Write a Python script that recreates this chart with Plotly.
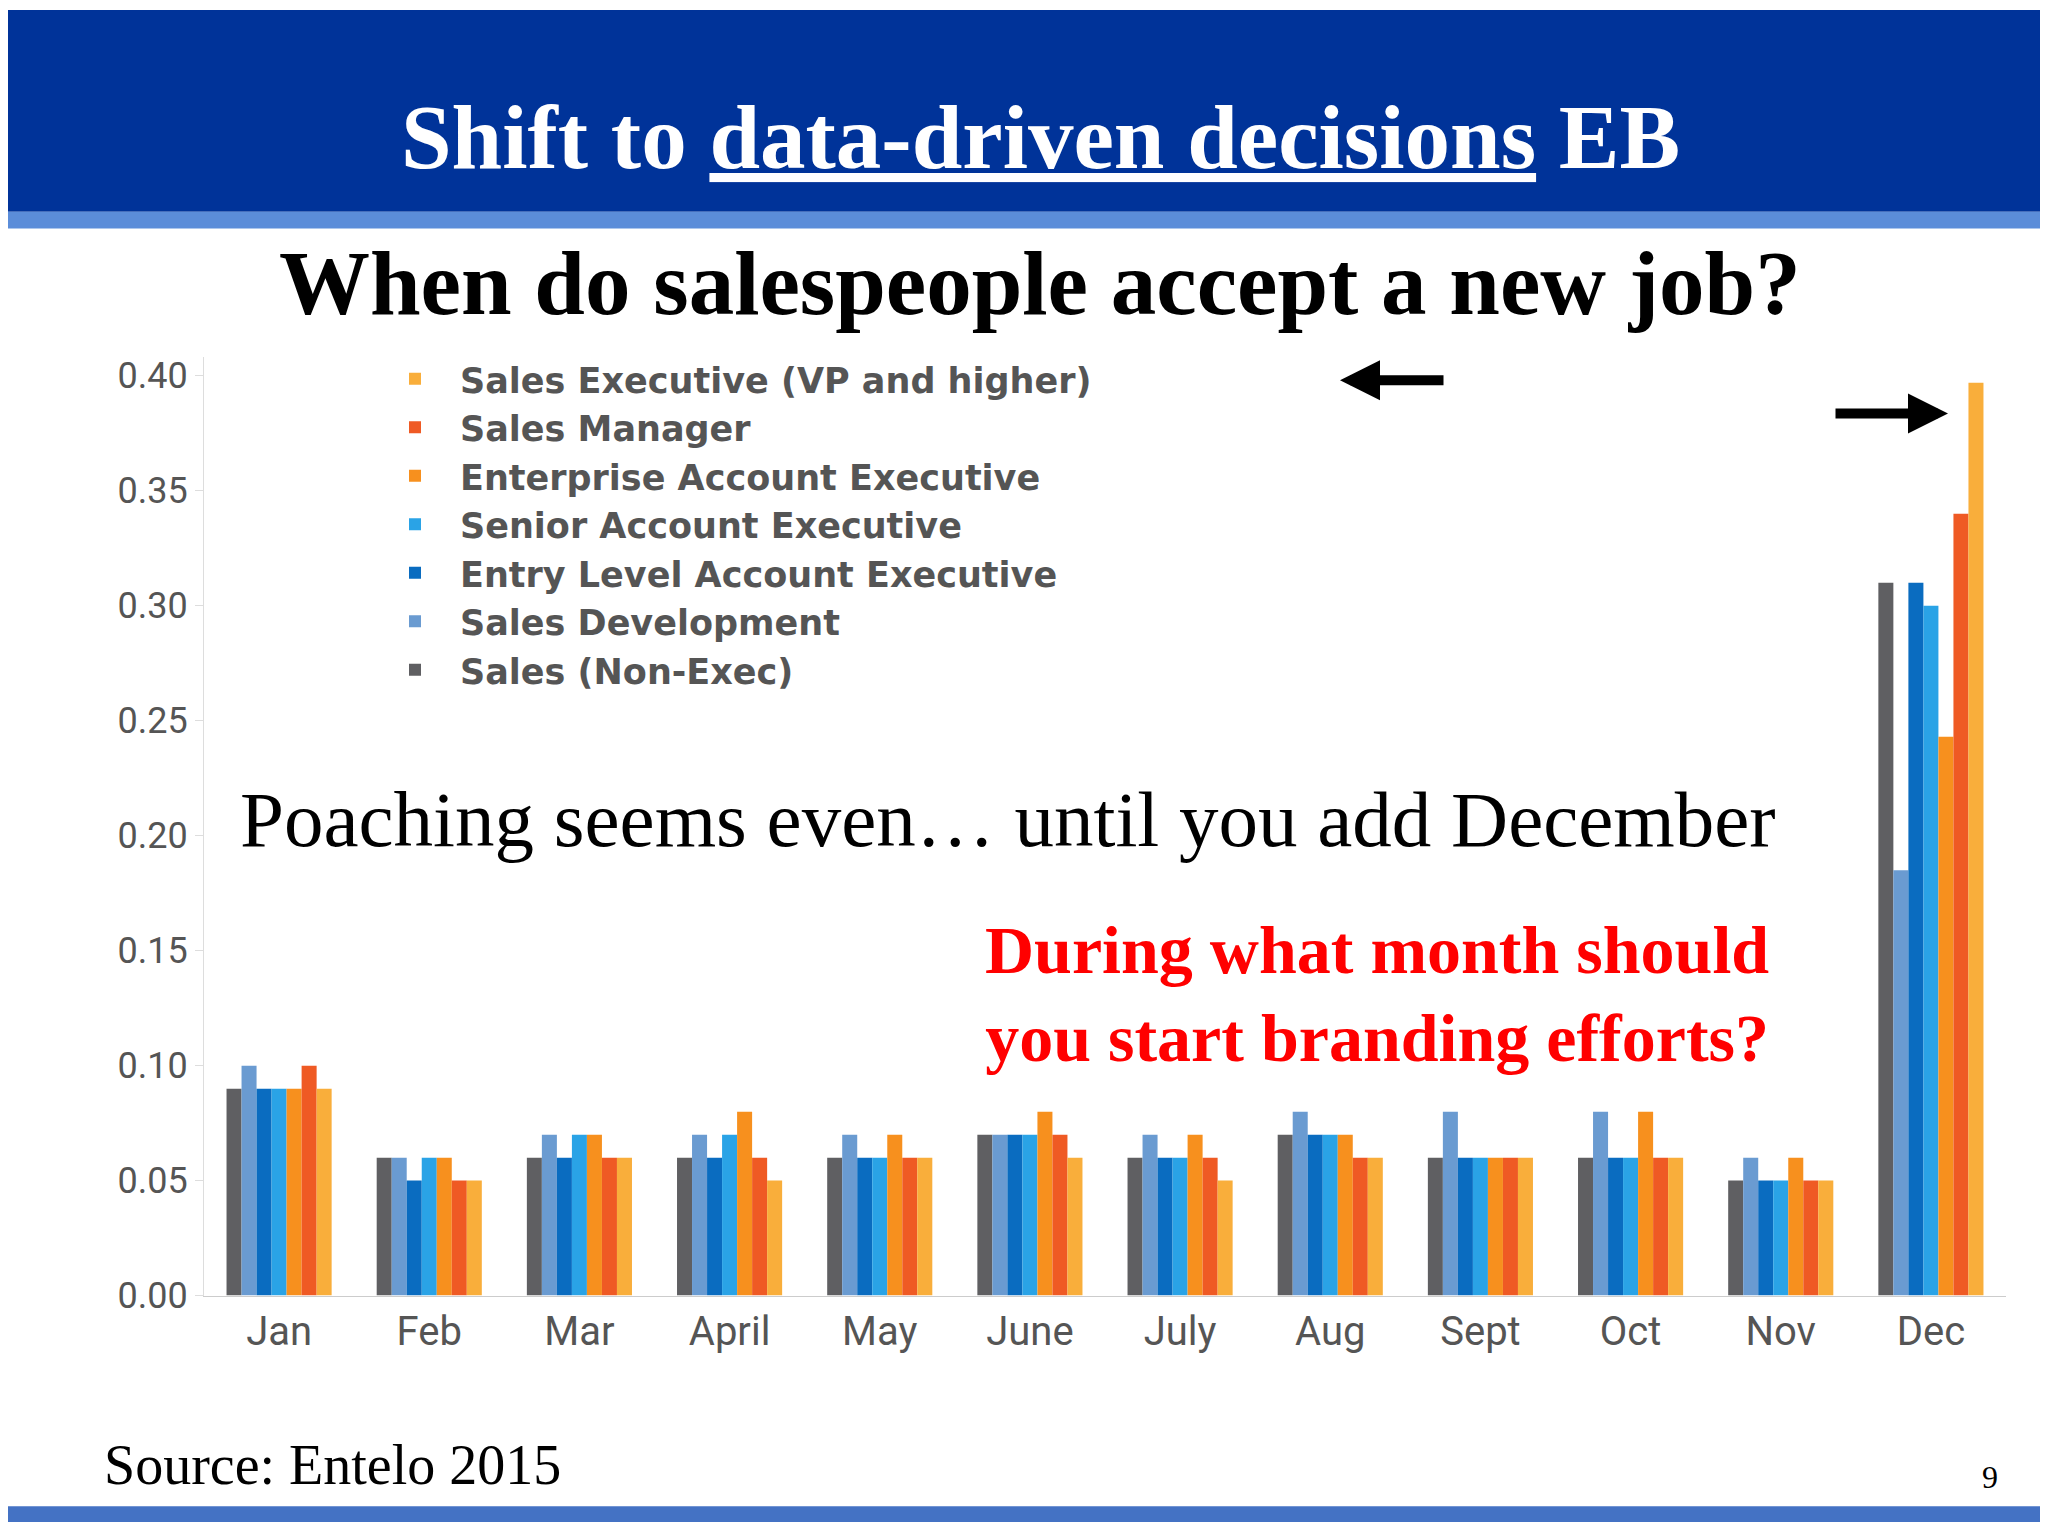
import plotly.graph_objects as go

W, H = 2048, 1536
months = ["Jan","Feb","Mar","April","May","June","July","Aug","Sept","Oct","Nov","Dec"]
series_names = ["Sales (Non-Exec)","Sales Development","Entry Level Account Executive",
                "Senior Account Executive","Enterprise Account Executive","Sales Manager",
                "Sales Executive (VP and higher)"]
colors = ["#5f5f62","#6a9bd1","#0a6cc0","#2aa3e6","#f7901e","#ef5a24","#f9ae3b"]
sales_non_exec = [.09,.06,.06,.06,.06,.07,.06,.07,.06,.06,.05,.31]
sales_dev      = [.10,.06,.07,.07,.07,.07,.07,.08,.08,.08,.06,.185]
entry_level    = [.09,.05,.06,.06,.06,.07,.06,.07,.06,.06,.05,.31]
senior_ae      = [.09,.06,.07,.07,.06,.07,.06,.07,.06,.06,.05,.30]
enterprise_ae  = [.09,.06,.07,.08,.07,.08,.07,.07,.06,.08,.06,.243]
sales_manager  = [.10,.05,.06,.06,.06,.07,.06,.06,.06,.06,.05,.34]
sales_exec     = [.09,.05,.06,.05,.06,.06,.05,.06,.06,.06,.05,.397]
all_vals = [sales_non_exec, sales_dev, entry_level, senior_ae, enterprise_ae, sales_manager, sales_exec]

fig = go.Figure()
for n, c, v in zip(series_names, colors, all_vals):
    fig.add_trace(go.Bar(x=months, y=v, name=n, marker=dict(color=c, line=dict(width=0))))

def px(x): return x / W
def py(y): return 1 - y / H

fig.update_layout(
    width=W, height=H, margin=dict(l=0, r=0, t=0, b=0),
    paper_bgcolor="white", plot_bgcolor="white",
    barmode="group", bargap=0.3, bargroupgap=0,
    xaxis=dict(domain=[px(196), px(1998)], tickfont=dict(family="Roboto", size=40, color="#555"),
               showline=True, linecolor="#ccc", ticks="", showgrid=False),
    yaxis=dict(domain=[py(1306), py(353)], range=[0, 0.408], tickvals=[0,.05,.1,.15,.2,.25,.3,.35,.4],
               tickformat=".2f", tickfont=dict(family="Roboto", size=36, color="#555"),
               showgrid=False, showline=True, linecolor="#ddd", ticks="outside", ticklen=8,
               tickcolor="#ddd", zeroline=False),
    legend=dict(x=px(362), y=py(345), xanchor="left", yanchor="top", traceorder="reversed",
                font=dict(family="DejaVu Sans", size=35, color="#555", weight="bold"), itemwidth=80,
                bgcolor="rgba(255,255,255,0)", tracegroupgap=0),
    font=dict(family="Liberation Serif"),
    shapes=[
        dict(type="rect", xref="paper", yref="paper", x0=0, x1=1, y0=py(205), y1=1,
             fillcolor="#003399", line=dict(width=0), layer="below"),
        dict(type="rect", xref="paper", yref="paper", x0=0, x1=1, y0=py(222), y1=py(205),
             fillcolor="#5b8dd9", line=dict(width=0), layer="below"),
        dict(type="rect", xref="paper", yref="paper", x0=0, x1=1, y0=0, y1=py(1520),
             fillcolor="#4472c4", line=dict(width=0), layer="below"),
    ],
)

ann = [
    dict(x=px(1032), y=py(130), text="<b>Shift to <u>data-driven decisions</u> EB</b>",
         font=dict(size=91, color="white", family="Liberation Serif")),
    dict(x=px(1032), y=py(278), text="<b>When do salespeople accept a new job?</b>",
         font=dict(size=91, color="black", family="Liberation Serif")),
    dict(x=px(1000), y=py(822), text="Poaching seems even… until you add December",
         font=dict(size=79, color="black", family="Liberation Serif")),
    dict(x=px(1763), y=py(1000), xanchor="right",
         text="<b>During what month should<br>you start branding efforts?</b>",
         font=dict(size=68, color="#ff0000", family="Liberation Serif")),
    dict(x=px(94), y=py(1478), xanchor="left", text="Source: Entelo 2015",
         font=dict(size=56, color="black", family="Liberation Serif")),
    dict(x=px(1992), y=py(1490), text="9", font=dict(size=32, color="black", family="Liberation Serif")),
]
for a in ann:
    a.update(xref="paper", yref="paper", showarrow=False, yanchor="middle")
    fig.add_annotation(**a)

fig.add_annotation(xref="paper", yref="paper", x=px(1332), y=py(376), ax=105, ay=0, text="",
                   showarrow=True, arrowhead=2, arrowsize=0.8, arrowwidth=10, arrowcolor="black")
fig.add_annotation(xref="paper", yref="paper", x=px(1940), y=py(410), ax=-114, ay=0, text="",
                   showarrow=True, arrowhead=2, arrowsize=0.8, arrowwidth=10, arrowcolor="black")

fig.write_html("out.html")
